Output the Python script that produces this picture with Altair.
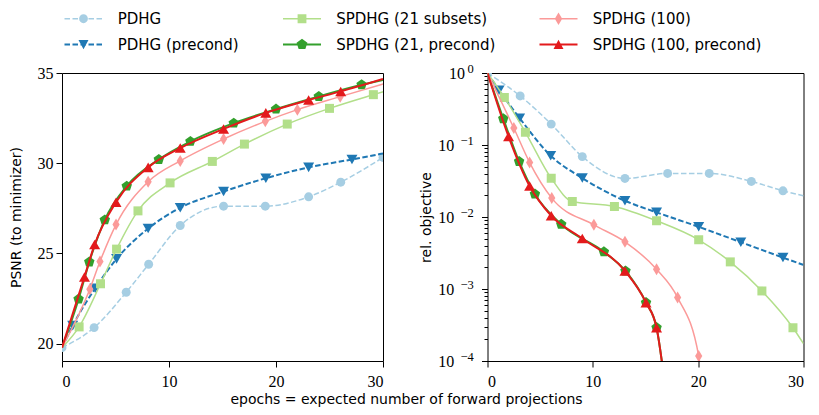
import altair as alt
import pandas as pd

# ---------------- data ----------------
SERIES = ["PDHG", "PDHG (precond)", "SPDHG (21 subsets)",
          "SPDHG (21, precond)", "SPDHG (100)", "SPDHG (100, precond)"]

EPOCH_TICKS = [0, 10, 20, 30]
PSNR_TICKS = [20, 25, 30, 35]
OBJ_TICKS = [m * 10.0 ** e for e in (-4, -3, -2, -1) for m in range(1, 10)] + [1.0]
OBJ_DECADES = [1.0, 0.1, 0.01, 0.001, 0.0001]
OBJ_EXPONENTS = ["0", "\u22121", "\u22122", "\u22123", "\u22124"]

START_PSNR = 19.78
START_OBJ = 1.0

# PSNR (to minimizer): marker positions
psnr_pdhg_x = [0, 3, 6, 8.1, 11.05, 15.1, 19, 23.05, 26.05, 30]
psnr_pdhg_y = [19.78, 20.89, 22.85, 24.4, 26.55, 27.62, 27.62, 28.14, 28.95, 30.32]
psnr_pdhgp_x = [1.0, 3.1, 5.1, 8.05, 11.05, 15.1, 19.05, 23.05, 27.1]
psnr_pdhgp_y = [21.0, 23.07, 24.7, 26.38, 27.53, 28.43, 29.17, 29.77, 30.21]
psnr_s21_x = [1.6, 3.6, 5.1, 7.1, 10.1, 14.05, 17.05, 21.05, 25.0, 29.1]
psnr_s21_y = [20.93, 23.32, 25.24, 27.36, 28.91, 30.1, 31.06, 32.17, 33.04, 33.8]
psnr_s21p_x = [1.55, 2.55, 4.0, 6.05, 9.05, 12.0, 16.05, 20.0, 24.0, 28.0]
psnr_s21p_y = [22.47, 24.53, 26.86, 28.73, 30.21, 31.21, 32.22, 33.0, 33.7, 34.35]
psnr_s100_x = [2.6, 3.55, 5.05, 8.05, 11.05, 15.1, 19.0, 22.0, 26.0]
psnr_s100_y = [23.02, 24.55, 26.6, 28.97, 30.13, 31.34, 32.32, 32.97, 33.69]
psnr_s100p_x = [2.1, 3.05, 5.05, 8.05, 11.05, 15.1, 19.05, 23.05, 26.05]
psnr_s100p_y = [23.7, 25.49, 27.84, 29.77, 30.84, 31.9, 32.79, 33.5, 33.98]
psnr_end_x = [30, 30, 30, 30, 30, 30]
psnr_end_y = [30.32, 30.54, 33.96, 34.62, 34.39, 34.67]

# relative objective: marker positions
obj_pdhg_x = [0, 3.1, 6.05, 9.0, 13.05, 17.1, 21.05, 25.05, 28.05]
obj_pdhg_y = [1.0, 0.48, 0.195, 0.069, 0.0343, 0.0403, 0.0403, 0.0312, 0.0231]
obj_pdhgp_x = [1.1, 3.05, 6.0, 9.0, 13.05, 16.05, 20.05, 24.05, 28.05]
obj_pdhgp_y = [0.577, 0.236, 0.071, 0.0347, 0.0168, 0.0116, 0.0073, 0.00447, 0.00273]
obj_s21_x = [1.6, 3.6, 6.05, 8.05, 12.05, 16.05, 20.05, 23.05, 26.05, 29.0]
obj_s21_y = [0.458, 0.15, 0.0345, 0.0164, 0.014, 0.00885, 0.00482, 0.00238, 0.00094, 0.00029]
obj_s21p_x = [1.5, 3.0, 4.5, 7.0, 11.05, 13.1, 15.05, 16.05]
obj_s21p_y = [0.232, 0.059, 0.0208, 0.0079, 0.00328, 0.00178, 0.000647, 0.000291]
obj_s100_x = [2.5, 4.0, 6.1, 10.1, 13.05, 16.05, 18.05, 20.05]
obj_s100_y = [0.172, 0.057, 0.0183, 0.00778, 0.00452, 0.00188, 0.00076, 0.000117]
obj_s100p_x = [2.0, 4.0, 6.05, 9.0, 13.05, 15.05, 16.05]
obj_s100p_y = [0.131, 0.0269, 0.0104, 0.00502, 0.00178, 0.000647, 0.00029]
obj_end_x = [30, 30, 30, 16.9, 20.4, 16.9]
obj_end_y = [0.0197, 0.00216, 0.000174, 0.00004, 0.00004, 0.00004]

PSNR_X = [psnr_pdhg_x, psnr_pdhgp_x, psnr_s21_x, psnr_s21p_x, psnr_s100_x, psnr_s100p_x]
PSNR_Y = [psnr_pdhg_y, psnr_pdhgp_y, psnr_s21_y, psnr_s21p_y, psnr_s100_y, psnr_s100p_y]
OBJ_X = [obj_pdhg_x, obj_pdhgp_x, obj_s21_x, obj_s21p_x, obj_s100_x, obj_s100p_x]
OBJ_Y = [obj_pdhg_y, obj_pdhgp_y, obj_s21_y, obj_s21p_y, obj_s100_y, obj_s100p_y]

# ---------------- styles ----------------
COLORS = ["#a6cee3", "#1f78b4", "#b2df8a", "#33a02c", "#fb9a99", "#e31a1c"]
LINE_W = [1.5, 2.0, 1.5, 2.0, 1.5, 2.0]
DASHED = [True, True, False, False, False, False]
PENTAGON = "M0,-1L0.951,-0.309L0.588,0.809L-0.588,0.809L-0.951,-0.309Z"
THIN_DIAMOND = "M0,-1L0.6,0L0,1L-0.6,0Z"
SHAPES = ["circle", "triangle-down", "square", PENTAGON, THIN_DIAMOND, "triangle-up"]
SIZES = [80, 121, 81, 121, 144, 121]

SANS = "DejaVu Sans"
SERIF = "Liberation Serif"

# legend symbols: a 38 px line sample with the marker in the middle
R = 6.0          # symbol unit (px); legend symbolSize = (2R)^2
HALF_LEN = 19.0  # half length of the line sample in px


def _poly(pts):
    return "M" + "L".join(f"{x / R:.3f},{y / R:.3f}" for x, y in pts) + "Z"


def _circle(r):
    r = r / R
    return f"M{r:.3f},0A{r:.3f},{r:.3f} 0 1,1 {-r:.3f},0A{r:.3f},{r:.3f} 0 1,1 {r:.3f},0Z"


LEGEND_MARKERS = [
    _circle(4.4),
    _poly([(-5.0, -4.5), (5.0, -4.5), (0, 4.7)]),
    _poly([(-4.4, -4.4), (4.4, -4.4), (4.4, 4.4), (-4.4, 4.4)]),
    _poly([(0, -5.7), (5.42, -1.76), (3.35, 4.61), (-3.35, 4.61), (-5.42, -1.76)]),
    _poly([(0, -6.2), (3.7, 0), (0, 6.2), (-3.7, 0)]),
    _poly([(0, -4.7), (5.0, 4.5), (-5.0, 4.5)]),
]


def legend_path(i):
    h = LINE_W[i] / 2.0
    parts = []
    segs = []
    if DASHED[i]:
        x = -HALF_LEN
        while x < HALF_LEN:
            x2 = min(x + 5.5, HALF_LEN)
            segs.append((x, x2))
            x = x2 + 2.5
    else:
        segs.append((-HALF_LEN, HALF_LEN))
    for x1, x2 in segs:
        parts.append(_poly([(x1, -h), (x2, -h), (x2, h), (x1, h)]))
    return "".join(parts) + LEGEND_MARKERS[i]


legend_paths = [legend_path(i) for i in range(len(SERIES))]

legend_spec = alt.Legend(
    title=None, orient="none", legendX=14, legendY=0, columns=3, padding=0,
    columnPadding=43.5, rowPadding=10, symbolSize=(2 * R) ** 2,
    symbolStrokeWidth=0, symbolOpacity=1, labelFont=SANS, labelFontSize=15,
    labelColor="black", labelOffset=26.7, labelLimit=400,
)

legend_chart = alt.Chart(pd.DataFrame({"series": SERIES})).mark_point(
    filled=True, opacity=0
).encode(
    color=alt.Color("series:N", scale=alt.Scale(domain=SERIES, range=COLORS),
                    legend=legend_spec),
    shape=alt.Shape("series:N", scale=alt.Scale(domain=SERIES, range=legend_paths),
                    legend=legend_spec),
).properties(width=1, height=1, view=alt.ViewBackground(stroke="transparent"))


def panel(xs, ys, end_x, end_y, start_y, y_scale, y_axis, width, extra=None):
    x_scale = alt.Scale(domain=[0, 30], nice=False, zero=False)
    x_axis = alt.Axis(values=EPOCH_TICKS, title=None, format="d", labelPadding=6)
    layers = []
    for i, name in enumerate(SERIES):
        lx, ly = list(xs[i]), list(ys[i])
        if lx[0] > 0:
            lx, ly = [0] + lx, [start_y] + ly
        if end_x[i] > lx[-1]:
            lx, ly = lx + [end_x[i]], ly + [end_y[i]]
        line_kw = dict(color=COLORS[i], strokeWidth=LINE_W[i], interpolate="monotone", clip=True)
        if DASHED[i]:
            line_kw["strokeDash"] = [5.5, 2.5]
        enc = dict(x=alt.X("x:Q", scale=x_scale, axis=x_axis),
                   y=alt.Y("y:Q", scale=y_scale, axis=y_axis))
        layers.append(alt.Chart(pd.DataFrame({"x": lx, "y": ly})).mark_line(**line_kw).encode(**enc))
        layers.append(alt.Chart(pd.DataFrame({"x": xs[i], "y": ys[i]})).mark_point(
            shape=SHAPES[i], size=SIZES[i], filled=True, opacity=1, color=COLORS[i],
            strokeWidth=0, clip=True).encode(**enc))
    if extra is not None:
        layers.append(extra(x_scale, x_axis))
    return alt.layer(*layers).properties(width=width, height=288)


left = panel(PSNR_X, PSNR_Y, psnr_end_x, psnr_end_y, START_PSNR,
             alt.Scale(domain=[19.04, 35], nice=False, zero=False),
             alt.Axis(values=PSNR_TICKS, title="PSNR (to minimizer)", titlePadding=14),
             321)

lg = "log(datum.value)/LN10"
is_decade = f"abs({lg} - round({lg})) < 0.001"
obj_scale = alt.Scale(type="log", domain=[1e-4, 1], nice=False)
obj_axis = alt.Axis(
    values=OBJ_TICKS, title="rel. objective", titlePadding=4,
    labelExpr=f"{is_decade} ? '10' : ''",
    labelPadding={"condition": {"test": "datum.value > 0.5", "value": 17}, "value": 27.7},
    tickSize={"condition": {"test": is_decade, "value": 6}, "value": 3.5},
)


def exponent_layer(x_scale, x_axis):
    return alt.Chart(pd.DataFrame({"v": OBJ_DECADES, "e": OBJ_EXPONENTS})).mark_text(
        align="right", baseline="middle", dx=-13.7, dy=-4.5, font=SERIF, fontSize=12.5,
        color="black", clip=False
    ).encode(
        x=alt.X(datum=0, scale=x_scale, axis=x_axis),
        y=alt.Y("v:Q", scale=obj_scale, axis=obj_axis),
        text="e:N",
    )


right = panel(OBJ_X, OBJ_Y, obj_end_x, obj_end_y, START_OBJ, obj_scale, obj_axis, 316,
              extra=exponent_layer)

panels = alt.hconcat(left, right, spacing=34.5).properties(
    title=alt.TitleParams("epochs = expected number of forward projections", orient="bottom",
                          anchor="middle", font=SANS, fontSize=14, fontWeight="normal",
                          color="black", offset=3)
)

chart = alt.vconcat(legend_chart, panels, spacing=8).resolve_scale(
    color="independent", shape="independent"
).properties(
    padding={"left": 0, "top": 0, "right": 0, "bottom": 0}
).configure_view(
    stroke="black", strokeWidth=1
).configure_axis(
    labelFont=SERIF, labelFontSize=16, labelColor="black", labelPadding=3,
    titleFont=SANS, titleFontSize=14, titleFontWeight="normal", titleColor="black",
    tickColor="black", tickSize=6, tickWidth=1, domain=False, grid=False,
)

chart.save("out.html", embed_options={"renderer": "svg", "actions": False})
